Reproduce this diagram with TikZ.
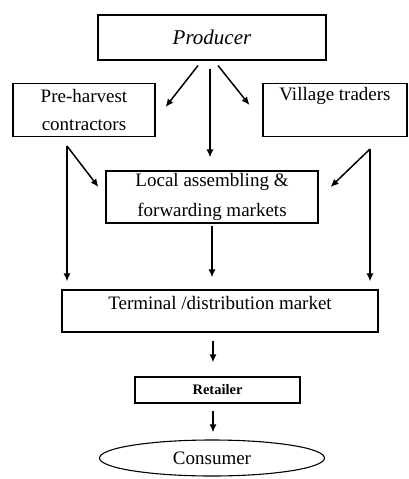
\documentclass[tikz,border=0pt]{standalone}
\usepackage{fontspec}
\setmainfont{Liberation Serif}
\usetikzlibrary{arrows.meta,calc,shapes.geometric}
\begin{document}
\begin{tikzpicture}[x=1pt,y=-1pt,
  box/.style={draw, line width=1.1pt, inner sep=0pt, align=center,
    font=\fontsize{19}{28}\selectfont},
  flow/.style={line width=1.5pt, -{Latex[length=8pt,width=7pt]}},
]
\useasboundingbox (0,0) rectangle (408,479);

% boxes
\node[box, minimum width=228, minimum height=45,
  font=\fontsize{21}{28}\selectfont\itshape] (prod) at (212,37.5) {Producer};
\node[box, minimum width=142, minimum height=53] (pre) at (84,110)
  {Pre-harvest\\contractors};
\node[box, minimum width=144, minimum height=53, text height=14pt,
  text depth=34pt] (vil) at (335,110) {Village traders};
\node[box, minimum width=212, minimum height=52, font=\fontsize{19}{30}\selectfont]
  (local) at (212,197) {Local assembling \&\\forwarding markets};
\node[box, minimum width=316, minimum height=42, text height=14pt,
  text depth=17pt] (term) at (220,311) {Terminal /distribution market};
\node[box, minimum width=165, minimum height=26,
  font=\fontsize{14.5}{16}\selectfont\bfseries] (ret) at (217.5,390) {Retailer};
\node[draw, ellipse, line width=1.1pt, inner sep=0pt, minimum width=225,
  minimum height=36, font=\fontsize{19}{28}\selectfont] (cons) at (212,458)
  {Consumer};

% branch points below the side boxes
\coordinate (pl) at ($(pre.south)+(-17,9)$);
\coordinate (pr) at ($(vil.south)+(35,12)$);

% connectors
\draw[flow] ($(prod.south)+(-14,5)$) -- ($(pre.east)+(10,-3)$);
\draw[flow] ($(prod.south)+(-2,8)$) -- ($(local.north)+(-2,-13)$);
\draw[flow] ($(prod.south)+(6,5)$) -- ($(vil.west)+(-13,-5)$);

\draw[flow] (pl) -- ($(pl |- term.north)+(0,-8)$);
\draw[flow] (pl) -- ($(local.west)+(-7,-10)$);
\draw[flow] (pr) -- ($(pr |- term.north)+(0,-8)$);
\draw[flow] (pr) -- ($(local.east)+(12,-10)$);

\draw[flow] ($(local.south)+(0,2)$) -- ($(local.south |- term.north)+(0,-12)$);
\draw[flow] ($(term.south)+(-7,8)$) -- ($(ret.north)+(-4.5,-14)$);
\draw[flow] ($(ret.south)+(-4.5,7)$) -- ($(cons.north)+(1,-7)$);
\end{tikzpicture}
\end{document}
